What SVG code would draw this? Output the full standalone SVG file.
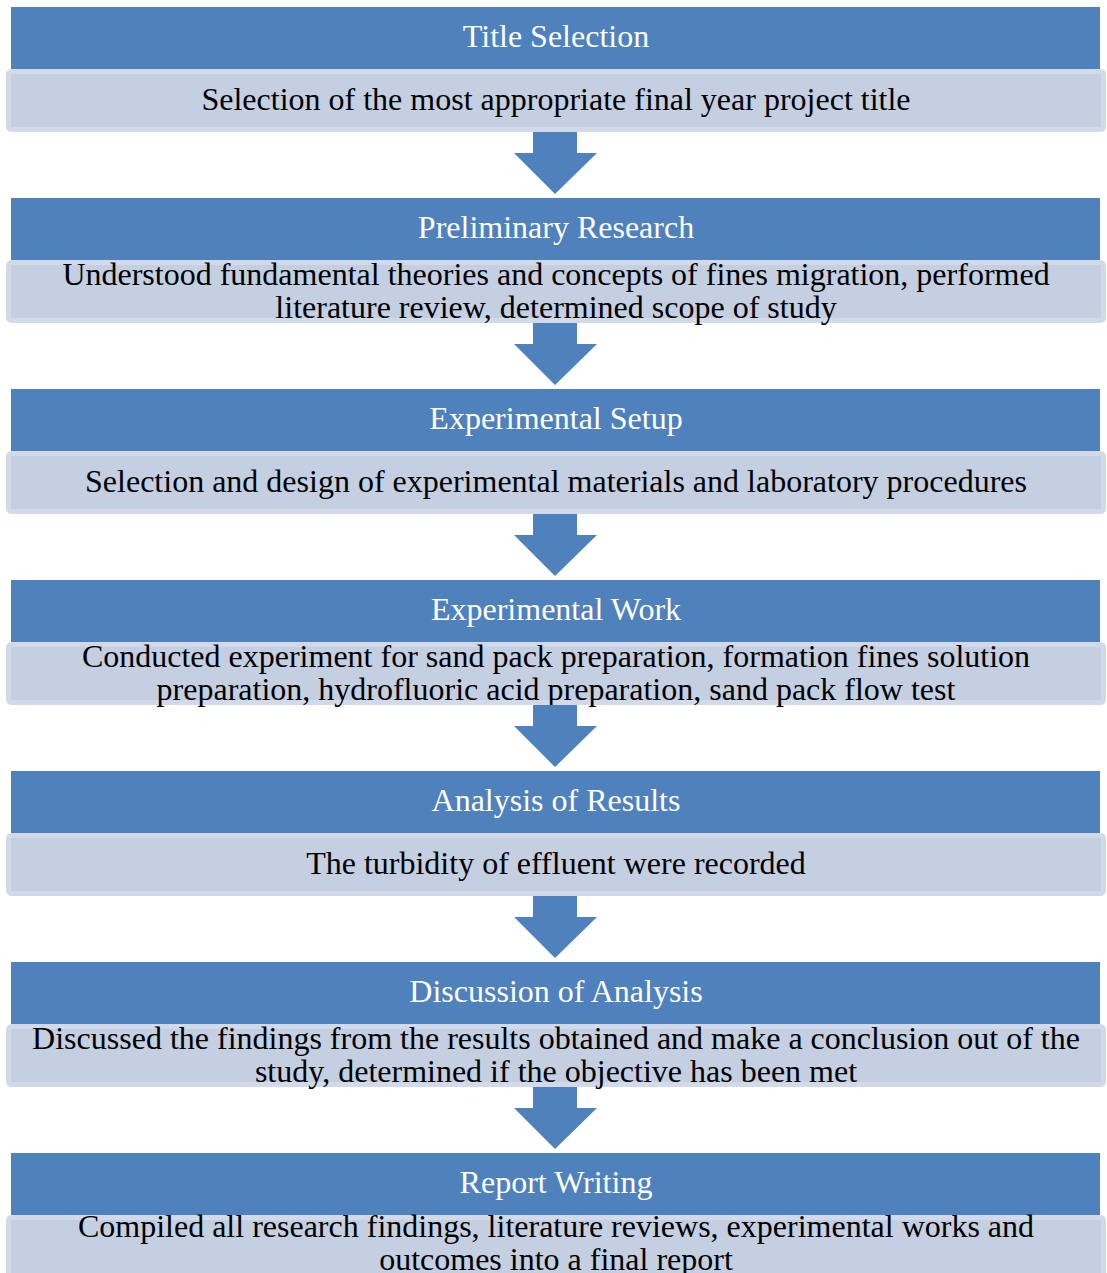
<svg xmlns="http://www.w3.org/2000/svg" width="1107" height="1273" viewBox="0 0 1107 1273">
  <style>
    .hdr { fill: #4f81bd; }
    .body { fill: #c4cfe2; stroke: #d2dae9; stroke-width: 5; }
    .arrow { fill: #4f81bd; }
    .title { font-family: "Liberation Serif", "Times New Roman", serif; font-size: 32px; fill: #ffffff; text-anchor: middle; }
    .desc { font-family: "Liberation Serif", "Times New Roman", serif; font-size: 32px; fill: #000000; text-anchor: middle; }
  </style>
  <defs>
    <path id="down" d="M-23,0 H21 V21 H41 L-1,62 L-42,21 H-23 Z"/>
  </defs>
  <rect width="1107" height="1273" fill="#ffffff"/>

  <g id="step1">
    <rect class="hdr" x="11" y="7" width="1089" height="62"/>
    <rect class="body" x="8.5" y="71.5" width="1095" height="58" rx="3"/>
    <text class="title" x="556" y="47">Title Selection</text>
    <text class="desc" x="556" y="110">Selection of the most appropriate final year project title</text>
  </g>

  <g id="step2">
    <rect class="hdr" x="11" y="198" width="1089" height="62"/>
    <rect class="body" x="8.5" y="262.5" width="1095" height="58" rx="3"/>
    <text class="title" x="556" y="238">Preliminary Research</text>
    <text class="desc" x="556" y="285">Understood fundamental theories and concepts of fines migration, performed</text>
    <text class="desc" x="556" y="318">literature review, determined scope of study</text>
  </g>

  <g id="step3">
    <rect class="hdr" x="11" y="389" width="1089" height="62"/>
    <rect class="body" x="8.5" y="453.5" width="1095" height="58" rx="3"/>
    <text class="title" x="556" y="429">Experimental Setup</text>
    <text class="desc" x="556" y="492">Selection and design of experimental materials and laboratory procedures</text>
  </g>

  <g id="step4">
    <rect class="hdr" x="11" y="580" width="1089" height="62"/>
    <rect class="body" x="8.5" y="644.5" width="1095" height="58" rx="3"/>
    <text class="title" x="556" y="620">Experimental Work</text>
    <text class="desc" x="556" y="667">Conducted experiment for sand pack preparation, formation fines solution</text>
    <text class="desc" x="556" y="700">preparation, hydrofluoric acid preparation, sand pack flow test</text>
  </g>

  <g id="step5">
    <rect class="hdr" x="11" y="771" width="1089" height="62"/>
    <rect class="body" x="8.5" y="835.5" width="1095" height="58" rx="3"/>
    <text class="title" x="556" y="811">Analysis of Results</text>
    <text class="desc" x="556" y="874">The turbidity of effluent were recorded</text>
  </g>

  <g id="step6">
    <rect class="hdr" x="11" y="962" width="1089" height="62"/>
    <rect class="body" x="8.5" y="1026.5" width="1095" height="58" rx="3"/>
    <text class="title" x="556" y="1002">Discussion of Analysis</text>
    <text class="desc" x="556" y="1049">Discussed the findings from the results obtained and make a conclusion out of the</text>
    <text class="desc" x="556" y="1082">study, determined if the objective has been met</text>
  </g>

  <g id="step7">
    <rect class="hdr" x="11" y="1153" width="1089" height="62"/>
    <rect class="body" x="8.5" y="1217.5" width="1095" height="58" rx="3"/>
    <text class="title" x="556" y="1193">Report Writing</text>
    <text class="desc" x="556" y="1237">Compiled all research findings, literature reviews, experimental works and</text>
    <text class="desc" x="556" y="1270">outcomes into a final report</text>
  </g>

  <g id="connectors">
    <use href="#down" class="arrow" x="556" y="132"/>
    <use href="#down" class="arrow" x="556" y="323"/>
    <use href="#down" class="arrow" x="556" y="514"/>
    <use href="#down" class="arrow" x="556" y="705"/>
    <use href="#down" class="arrow" x="556" y="896"/>
    <use href="#down" class="arrow" x="556" y="1087"/>
  </g>
</svg>
